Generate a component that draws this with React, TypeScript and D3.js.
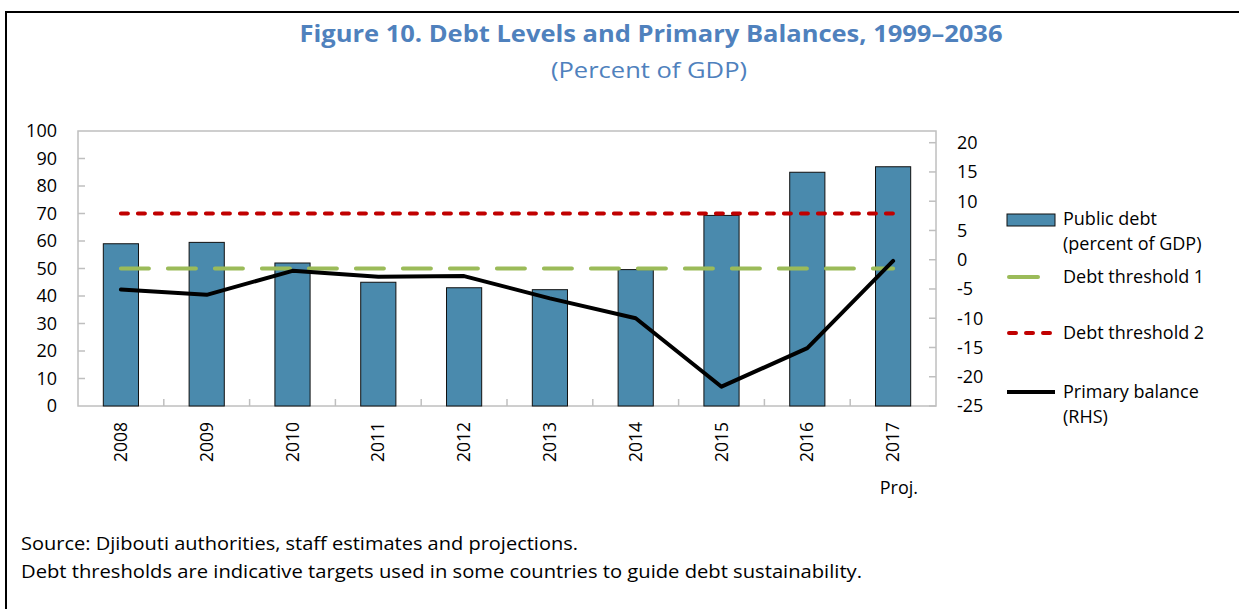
import React from "react";
import * as d3 from "d3";

const years = ["2008", "2009", "2010", "2011", "2012", "2013", "2014", "2015", "2016", "2017"];
const publicDebt = [59, 59.5, 52, 45, 43, 42.3, 49.6, 69.3, 85, 87];
const primaryBalance = [-5.1, -6.0, -1.9, -2.9, -2.8, -6.6, -10.0, -21.7, -15.1, -0.2];
const threshold1 = [50, 50];
const threshold2 = [70, 70];
const leftTicks = [0, 10, 20, 30, 40, 50, 60, 70, 80, 90, 100];
const rightTicks = [20, 15, 10, 5, 0, -5, -10, -15, -20, -25];

const W = 1239;
const H = 609;
const plot = { left: 78, right: 936, top: 131, bottom: 406 };
const BLUE_TITLE = "#4F81BD";
const BAR = "#4A8AAD";
const GREEN = "#9BBB59";
const RED = "#C00000";
const AXIS = "#BFBFBF";
const FONT = "'Open Sans', 'Noto Sans', sans-serif";

export default function App() {
  const x = d3.scaleBand<string>().domain(years).range([plot.left, plot.right]).padding(0);
  const yL = d3.scaleLinear().domain([0, 100]).range([plot.bottom, plot.top]);
  const yR = d3.scaleLinear().domain([-25, 22]).range([plot.bottom, plot.top]);
  const bw = x.bandwidth();
  const barW = bw * 0.41;
  const cx = (y: string) => (x(y) as number) + bw / 2;

  const line = d3
    .line<number>()
    .x((_, i) => cx(years[i]))
    .y((d) => yR(d));

  const x0 = cx(years[0]);
  const x1 = cx(years[years.length - 1]);

  return (
    <svg
      width={W}
      height={H}
      style={{ position: "absolute", left: 0, top: 0, display: "block", background: "#fff" }}
      fontFamily={FONT}
    >
      <rect x={0} y={0} width={W} height={H} fill="#fff" />
      {/* outer frame */}
      <line x1={6} y1={12} x2={W + 2} y2={12} stroke="#000" strokeWidth={2} />
      <line x1={6} y1={11} x2={6} y2={H + 2} stroke="#000" strokeWidth={2} />

      {/* title */}
      <text x={651} y={42} textAnchor="middle" fontSize={24} fontWeight="bold" fill={BLUE_TITLE}
        textLength={703} lengthAdjust="spacingAndGlyphs">
        Figure 10. Debt Levels and Primary Balances, 1999–2036
      </text>
      <text x={649} y={78} textAnchor="middle" fontSize={21} fill={BLUE_TITLE}
        textLength={196} lengthAdjust="spacingAndGlyphs">
        (Percent of GDP)
      </text>

      {/* plot frame */}
      <rect x={plot.left} y={plot.top} width={plot.right - plot.left} height={plot.bottom - plot.top}
        fill="none" stroke={AXIS} strokeWidth={1.5} />

      {/* left ticks */}
      {leftTicks.map((t) => (
        <g key={"l" + t}>
          {t > 0 && t < 100 && (
            <line x1={plot.left} x2={plot.left + 7} y1={yL(t)} y2={yL(t)} stroke={AXIS} strokeWidth={1.5} />
          )}
          <text x={57} y={yL(t)} dy="0.35em" textAnchor="end" fontSize={18} fill="#000">
            {t}
          </text>
        </g>
      ))}

      {/* right ticks */}
      {rightTicks.map((t) => (
        <g key={"r" + t}>
          <line x1={plot.right - 7} x2={plot.right} y1={yR(t)} y2={yR(t)} stroke={AXIS} strokeWidth={1.5} />
          <text x={957} y={yR(t)} dy="0.35em" textAnchor="start" fontSize={18} fill="#000">
            {t}
          </text>
        </g>
      ))}

      {/* x category ticks */}
      {years.slice(1).map((yr) => (
        <line key={"xt" + yr} x1={x(yr)} x2={x(yr)} y1={plot.bottom} y2={plot.bottom - 7} stroke={AXIS} strokeWidth={1.5} />
      ))}

      {/* bars */}
      {years.map((yr, i) => (
        <rect key={"b" + yr} x={cx(yr) - barW / 2} y={yL(publicDebt[i])} width={barW}
          height={plot.bottom - yL(publicDebt[i])} fill={BAR} stroke="#111" strokeWidth={1} />
      ))}

      {/* thresholds */}
      <line x1={x0} x2={x1} y1={yL(threshold2[0])} y2={yL(threshold2[1])} stroke={RED} strokeWidth={4}
        strokeDasharray="7 10" strokeLinecap="round" />
      <line x1={x0} x2={x1} y1={yL(threshold1[0])} y2={yL(threshold1[1])} stroke={GREEN} strokeWidth={4}
        strokeDasharray="28 19" strokeLinecap="round" />

      {/* primary balance */}
      <path d={line(primaryBalance) || ""} fill="none" stroke="#000" strokeWidth={4} strokeLinejoin="round" strokeLinecap="round" />

      {/* year labels */}
      {years.map((yr) => (
        <text key={"yl" + yr} transform={`translate(${cx(yr)},422) rotate(-90)`} textAnchor="end" dy="0.35em"
          fontSize={17.5} fill="#000">
          {yr}
        </text>
      ))}
      <text x={918} y={494} textAnchor="end" fontSize={18} fill="#000">Proj.</text>

      {/* legend */}
      <rect x={1007} y={214} width={48} height={12} fill={BAR} stroke="#111" strokeWidth={1} />
      <text x={1063} y={219} dy="0.35em" fontSize={18} fill="#000">Public debt</text>
      <text x={1063} y={244} dy="0.35em" fontSize={18} fill="#000">(percent of GDP)</text>
      <line x1={1009} x2={1038} y1={277} y2={277} stroke={GREEN} strokeWidth={4} strokeLinecap="round" />
      <text x={1063} y={277} dy="0.35em" fontSize={18} fill="#000">Debt threshold 1</text>
      <line x1={1009} x2={1053} y1={333} y2={333} stroke={RED} strokeWidth={4} strokeDasharray="7 10" strokeLinecap="round" />
      <text x={1063} y={333} dy="0.35em" fontSize={18} fill="#000">Debt threshold 2</text>
      <line x1={1007} x2={1055} y1={392} y2={392} stroke="#000" strokeWidth={4} />
      <text x={1063} y={392} dy="0.35em" fontSize={18} fill="#000">Primary balance</text>
      <text x={1063} y={417} dy="0.35em" fontSize={18} fill="#000">(RHS)</text>

      {/* footnotes */}
      <text x={21} y={550} fontSize={18} fill="#000" textLength={557} lengthAdjust="spacingAndGlyphs">
        Source: Djibouti authorities, staff estimates and projections.
      </text>
      <text x={21} y={578} fontSize={18} fill="#000" textLength={841} lengthAdjust="spacingAndGlyphs">
        Debt thresholds are indicative targets used in some countries to guide debt sustainability.
      </text>
    </svg>
  );
}
